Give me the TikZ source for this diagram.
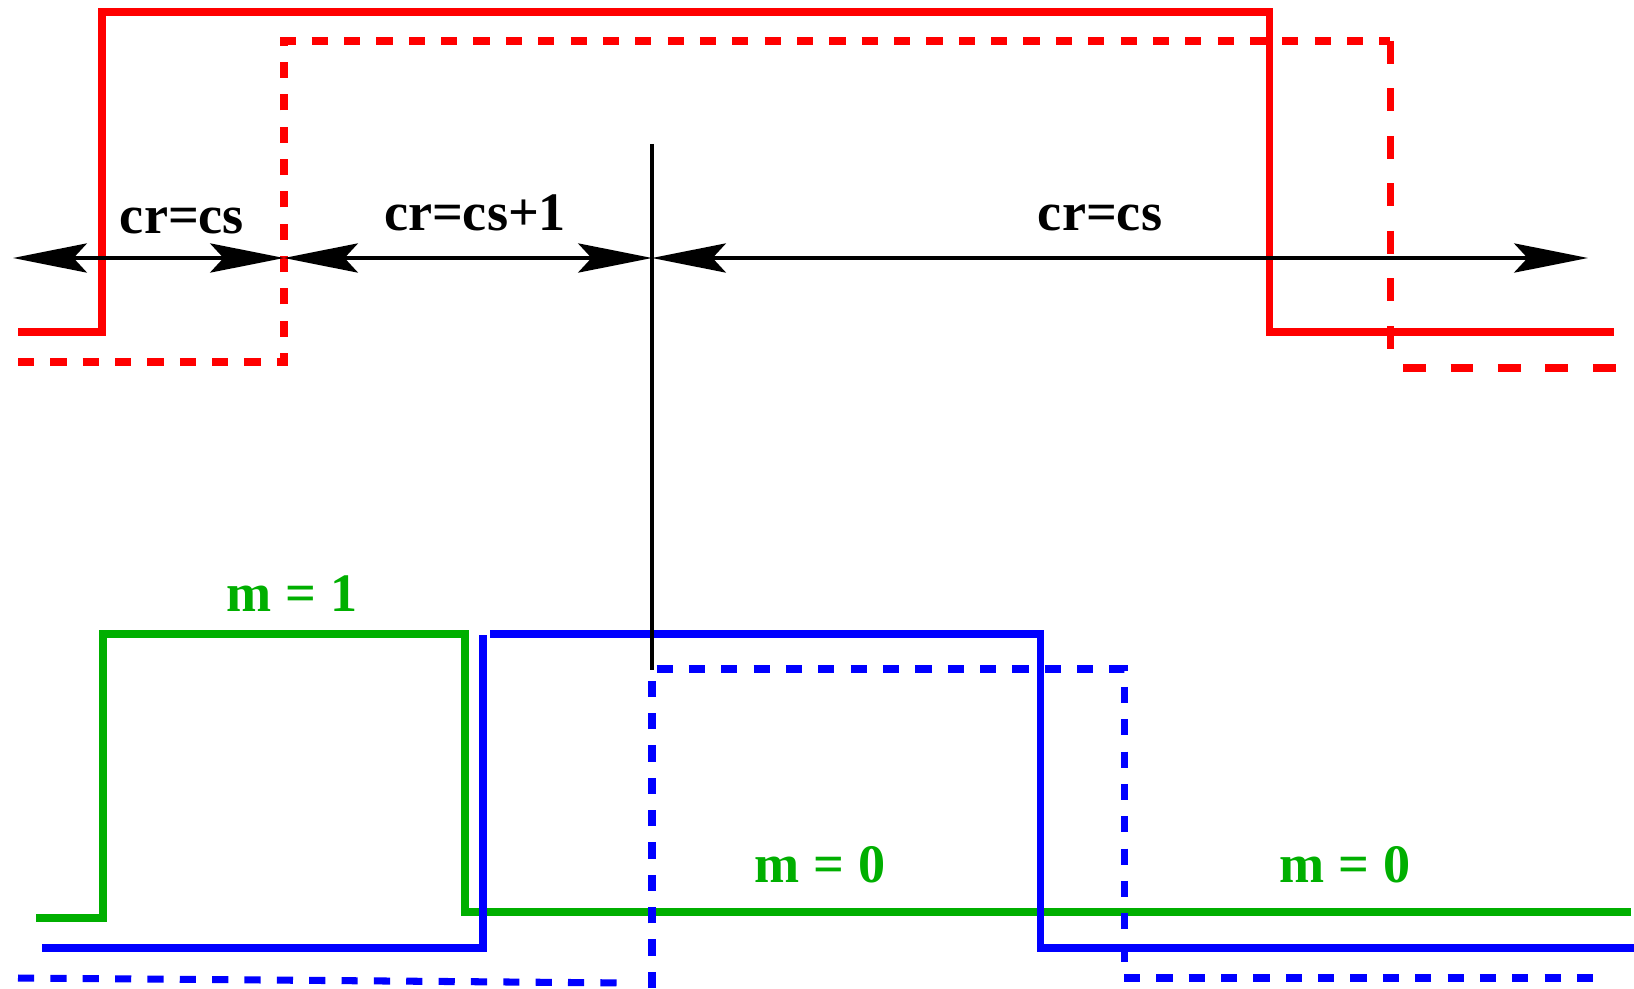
\documentclass[tikz,border=0pt]{standalone}
\usepackage{fontspec}
\setmainfont{Liberation Serif}
\usetikzlibrary{arrows.meta}
\definecolor{sigred}{RGB}{255,0,0}
\definecolor{sigblue}{RGB}{0,0,255}
\definecolor{siggreen}{RGB}{0,175,0}

\begin{document}
\begin{tikzpicture}[x=0.01cm,y=-0.01cm,
    >={Stealth[length=21pt,width=8.3pt,inset=3.8pt]},
    sig/.style={line width=2pt},
    shortdash/.style={dash pattern=on 4.6pt off 4.6pt},
    longdash/.style={dash pattern=on 6.5pt off 7pt},
    dim/.style={line width=1.1pt,<->},
    lbl/.style={font=\fontsize{15.4}{18}\selectfont\bfseries,anchor=base,inner sep=0pt}]
        \useasboundingbox (0,0) rectangle (1634,988);
        \draw[sig,sigred] (18,332) -| (102,12) -| (1269,332) -- (1614,332);
        \draw[sig,sigred,shortdash] (18,362) -| (284,41) -- (1390,41);
        \draw[sig,sigred,longdash] (1390,41) -- (1390,355);
        \draw[sig,sigred,longdash] (1403,368) -- (1620,368);
        \draw[sig,siggreen] (36,918) -| (103,634) -| (465,912) -- (1631,912);
        \draw[sig,sigblue] (42,948) -| (483,635);
        \draw[sig,sigblue] (490,634) -| (1040,948) -- (1634,948);
        \draw[sig,sigblue,shortdash] (18,978) -- (632,983);
        \draw[sig,sigblue,shortdash] (652,988) -- (652,669) -| (1124,978) -- (1600,978);
        \coordinate (a0) at (13,258);
        \coordinate (a1) at (284,258);
        \coordinate (a2) at (652,258);
        \coordinate (a3) at (1588,258);
        \coordinate (cuttop) at (652,144);
        \coordinate (cutbot) at (652,670);
        \draw[line width=1.1pt] (cuttop) -- (cutbot);
        \foreach \p/\q in {a0/a1,a1/a2,a2/a3} {
            \draw[dim] (\p) -- (\q);
          }
        \node[lbl] (crA) at (182,233) {cr=cs};
        \node[lbl] (crB) at (475,230) {cr=cs+1};
        \node[lbl] (crC) at (1100,230) {cr=cs};
        \node[lbl,siggreen] (mA) at (292,611) {m = 1};
        \node[lbl,siggreen] (mB) at (820,882) {m = 0};
        \node[lbl,siggreen] (mC) at (1345,882) {m = 0};
      \end{tikzpicture}
\end{document}
